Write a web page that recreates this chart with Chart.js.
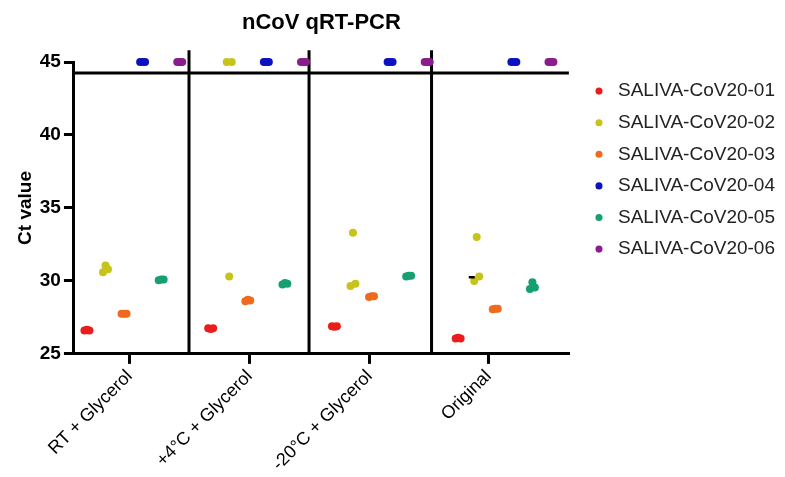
<!DOCTYPE html>
<html>
<head>
<meta charset="utf-8">
<script src="https://cdn.jsdelivr.net/npm/chart.js@4"></script>
<style>
html,body{margin:0;padding:0;background:#fff;}
#wrap{width:785px;height:477px;}
</style>
</head>
<body>
<div id="wrap"><canvas id="c" width="785" height="477"></canvas></div>
<script>
// ---- data ----
const categories = ['RT + Glycerol', '+4°C + Glycerol', '-20°C + Glycerol', 'Original'];
const seriesNames = ['SALIVA-CoV20-01', 'SALIVA-CoV20-02', 'SALIVA-CoV20-03', 'SALIVA-CoV20-04', 'SALIVA-CoV20-05', 'SALIVA-CoV20-06'];
// Ct values: one inner list (3 replicates) per category; 45 = undetermined
const ct01 = [[26.6, 26.65, 26.6], [26.75, 26.7, 26.75], [26.9, 26.85, 26.9], [26.05, 26.1, 26.05]];
const ct02 = [[30.6, 31.05, 30.8], [45, 30.3, 45], [29.65, 33.3, 29.8], [30.0, 33.0, 30.3]];
const ct03 = [[27.75, 27.75, 27.75], [28.6, 28.7, 28.65], [28.9, 28.95, 28.95], [28.05, 28.1, 28.1]];
const ct04 = [[45, 45, 45], [45, 45, 45], [45, 45, 45], [45, 45, 45]];
const ct05 = [[30.05, 30.1, 30.1], [29.75, 29.85, 29.8], [30.3, 30.35, 30.35], [29.45, 29.9, 29.55]];
const ct06 = [[45, 45, 45], [45, 45, 45], [45, 45, 45], [45, 45, 45]];
const markOriginal02 = 30.25;   // small black dash in "Original" group
const cutoffCt = 44.25;          // horizontal cut-off line
const yTicks = [25, 30, 35, 40, 45];

// ---- styling / layout ----
const seriesValues = [ct01, ct02, ct03, ct04, ct05, ct06];
const colors = ['#ec1c1c', '#c6c41a', '#f06a1e', '#0c12c0', '#16a070', '#8a1c8c'];
const tickPos = [-0.05, 0.92, 1.89, 2.85];
const dividerPos = [0.43, 1.40, 2.39];
const seriesOffset = i => (i - 2.5) * 0.15 - 0.02;
const repOffset = [-0.02, 0, 0.02];

Chart.defaults.font.family = "'Liberation Sans', Arial, sans-serif";
Chart.defaults.color = '#000';

const datasets = [];
datasets.push({
  label: 'mark',
  data: [{x: 3 + seriesOffset(1) - 0.04, y: markOriginal02}],
  pointStyle: 'line', pointRadius: 3, pointHoverRadius: 3,
  borderColor: '#000', backgroundColor: '#000', borderWidth: 2.5, clip: false
});
seriesValues.forEach((vals, i) => {
  const pts = [];
  vals.forEach((grp, g) => grp.forEach((v, r) => pts.push({x: g + seriesOffset(i) + repOffset[r], y: v})));
  datasets.push({
    label: seriesNames[i], data: pts,
    backgroundColor: colors[i], borderColor: colors[i],
    pointRadius: 4, pointHoverRadius: 4, pointBorderWidth: 0, clip: false
  });
});
dividerPos.forEach(d => datasets.push({
  label: '_div', data: [{x: d, y: 25}, {x: d, y: 45.8}], showLine: true,
  borderColor: '#000', borderWidth: 3, pointRadius: 0, clip: false
}));
datasets.push({
  label: '_cut', data: [{x: -0.5, y: cutoffCt}, {x: 3.5, y: cutoffCt}], showLine: true,
  borderColor: '#000', borderWidth: 3, pointRadius: 0, clip: false
});

new Chart(document.getElementById('c'), {
  type: 'scatter',
  data: {datasets},
  options: {
    responsive: false,
    animation: false,
    devicePixelRatio: 1,
    layout: {padding: {left: 8, right: 0, bottom: 0, top: 0}},
    scales: {
      x: {
        type: 'linear', min: -0.5, max: 3.5,
        afterBuildTicks: ax => { ax.ticks = tickPos.map(v => ({value: v})); },
        ticks: {
          autoSkip: false, minRotation: 45, maxRotation: 45,
          font: {size: 18}, color: '#000', padding: 2,
          callback: (v, i) => categories[i]
        },
        grid: {display: true, drawOnChartArea: false, drawTicks: true, tickLength: 10, lineWidth: 3, color: '#000'},
        border: {display: true, color: '#000', width: 3}
      },
      y: {
        min: 25, max: 45,
        afterBuildTicks: ax => { ax.ticks = yTicks.map(v => ({value: v})); },
        ticks: {font: {size: 19, weight: 'bold'}, color: '#000', padding: 3},
        grid: {display: true, drawOnChartArea: false, drawTicks: true, tickLength: 10, lineWidth: 3, color: '#000'},
        border: {display: true, color: '#000', width: 3},
        title: {display: true, text: 'Ct value', font: {size: 19, weight: 'bold'}, color: '#000', padding: {top: 6, bottom: 0}}
      },
      gap: {
        type: 'linear', position: 'right', display: true,
        ticks: {display: false}, grid: {display: false}, border: {display: false},
        afterFit: ax => { ax.width = 8; }
      }
    },
    plugins: {
      title: {
        display: true, text: 'nCoV qRT-PCR', fullSize: false,
        font: {size: 22, weight: 'bold'}, color: '#000',
        padding: {top: 10, bottom: 25.6}
      },
      legend: {
        position: 'right', align: 'start', maxWidth: 240,
        title: {display: true, text: ' ', font: {size: 10}, padding: {top: 0, bottom: 57}},
        labels: {
          usePointStyle: true, pointStyle: 'circle', boxHeight: 5,
          padding: 12.6, font: {size: 19}, color: '#222',
          filter: item => seriesNames.includes(item.text)
        }
      },
      tooltip: {enabled: false}
    }
  }
});
</script>
</body>
</html>
